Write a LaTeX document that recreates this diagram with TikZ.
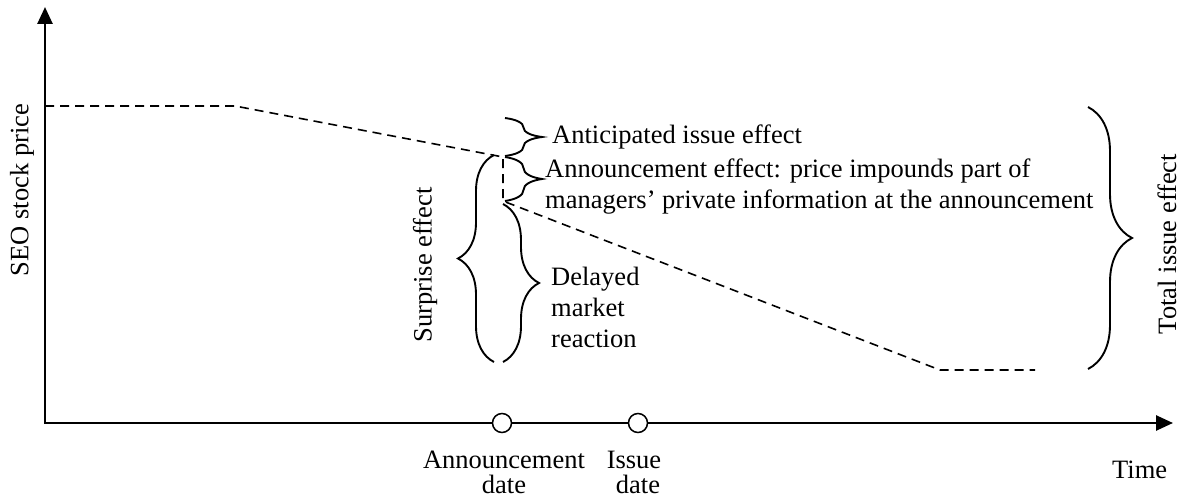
\documentclass[tikz,border=0pt]{standalone}
\usepackage{fontspec}
\setmainfont{Liberation Serif}
\usetikzlibrary{arrows.meta,decorations.pathreplacing}
\begin{document}
\begin{tikzpicture}[x=1pt,y=-1pt,
  axis/.style={line width=2.6pt, {Triangle[length=17pt,width=15pt]}-{Triangle[length=17pt,width=15pt]}},
  price/.style={line width=1.6pt, dash pattern=on 9pt off 6pt},
  br/.style={decorate, decoration={brace, amplitude=#1}, line width=1.9pt},
  lbl/.style={font=\fontsize{26.5}{31}\selectfont, inner sep=0pt},
  dot/.style={circle, draw, fill=white, line width=1.5pt, minimum size=19pt, inner sep=0pt}
]
\useasboundingbox (0,0) rectangle (1184,503);

% axes
\coordinate (O) at (45,423);
\coordinate (ytip) at (45,7);
\coordinate (xtip) at (1173,423);
\draw[axis] (ytip) -- (O) -- (xtip);

% price path
\coordinate (p0) at (45,106);
\coordinate (p1) at (235,106);
\coordinate (p2) at (503,157);
\coordinate (p3) at (503,201);
\coordinate (p4) at (940,370);
\coordinate (p5) at (1035,370);
\draw[price] (p0) -- (p1) -- (p2) -- (p3) -- (p4) -- (p5);

% dates
\node[dot] (ann) at (502,423) {};
\node[dot] (iss) at (638,423) {};
\node[lbl, anchor=base] (annl1) at (504,468) {Announcement};
\node[lbl, anchor=base] (annl2) at (504,493) {date};
\node[lbl, anchor=base] (issl1) at (634,468) {Issue};
\node[lbl, anchor=base] (issl2) at (638,493) {date};
\node[lbl, anchor=base west] (time) at (1112,478) {Time};

% axis label
\node[lbl, rotate=90] (seo) at (22,190) {SEO stock price};

% braces
\coordinate (a1) at (505,118);
\coordinate (a2) at (505,156);
\coordinate (b1) at (505,157);
\coordinate (b2) at (505,201);
\coordinate (s1) at (494,362);
\coordinate (s2) at (494,155);
\coordinate (d1) at (503,204);
\coordinate (d2) at (503,362);
\coordinate (t1) at (1088,107);
\coordinate (t2) at (1088,369);
\draw[br=37] (a1) -- (a2);
\draw[br=37] (b1) -- (b2);
\draw[br=36] (s1) -- (s2);
\draw[br=36] (d1) -- (d2);
\draw[br=44] (t1) -- (t2);

% labels
\node[lbl, anchor=base west] (antic) at (552,143) {Anticipated issue effect};
\node[lbl, anchor=base west] (annc1) at (545,177) {Announcement effect: price impounds part of};
\node[lbl, anchor=base west] (annc2) at (545,208) {managers’ private information at the announcement};
\node[lbl, anchor=base west] (del1) at (551,285) {Delayed};
\node[lbl, anchor=base west] (del2) at (551,316) {market};
\node[lbl, anchor=base west] (del3) at (551,347) {reaction};
\node[lbl, rotate=90] (surp) at (425,265) {Surprise effect};
\node[lbl, rotate=90] (total) at (1167,244) {Total issue effect};
\end{tikzpicture}
\end{document}
